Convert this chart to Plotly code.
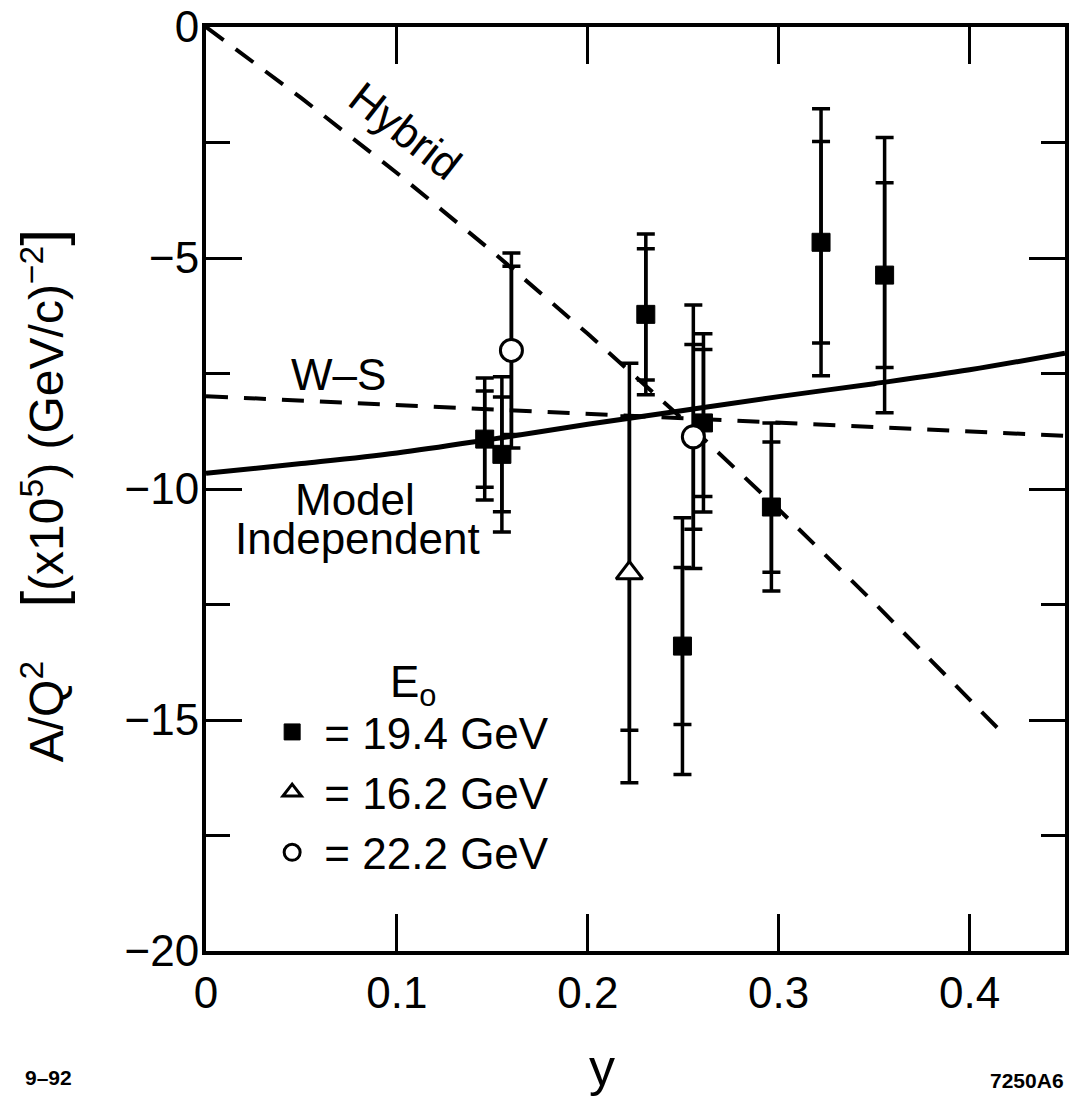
import plotly.graph_objects as go

# ---- data ----
sq_x = [0.146, 0.155, 0.2304, 0.2496, 0.2606, 0.2962, 0.3222, 0.3555]
sq_y = [-8.92, -9.25, -6.22, -13.40, -8.57, -10.39, -4.66, -5.37]
sq_stat = [1.04, 1.24, 1.42, 1.70, 1.59, 1.41, 2.18, 2.00]
sq_tot = [1.32, 1.68, 1.74, 2.78, 1.93, 1.82, 2.89, 2.98]

tri_x = [0.2218]
tri_y = [-11.82]
tri_stat = [3.40]
tri_tot = [4.54]

cir_x = [0.160, 0.2553]
cir_y = [-7.00, -8.87]
cir_stat = [1.82, 2.00]
cir_tot = [2.11, 2.85]

hyb_x = [0, 0.05, 0.10, 0.15, 0.20, 0.25, 0.30, 0.35, 0.4146]
hyb_y = [0, -1.54, -3.16, -4.86, -6.64, -8.50, -10.44, -12.46, -15.17]

ws_x = [0, 0.10, 0.20, 0.30, 0.45]
ws_y = [-7.99, -8.18, -8.37, -8.56, -8.85]

mi_x = [0, 0.05, 0.10, 0.15, 0.20, 0.25, 0.30, 0.35, 0.40, 0.45]
mi_y = [-9.66, -9.45, -9.22, -8.92, -8.60, -8.30, -8.00, -7.72, -7.42, -7.06]

x_ticks = [0, 0.1, 0.2, 0.3, 0.4]
x_ticktext = ["0", "0.1", "0.2", "0.3", "0.4"]
y_ticks = [0, -5, -10, -15, -20]
y_ticktext = ["0", "\u22125", "\u221210", "\u221215", "\u221220"]
y_minor = [-2.5, -7.5, -12.5, -17.5]

FONT = "Liberation Sans, Arial, Helvetica, sans-serif"
FS = 44

fig = go.Figure()

# theory curves
fig.add_trace(go.Scatter(x=hyb_x, y=hyb_y, mode="lines", showlegend=False,
                         line=dict(color="black", width=4, dash="22px,15px")))
fig.add_trace(go.Scatter(x=ws_x, y=ws_y, mode="lines", showlegend=False,
                         line=dict(color="black", width=4, dash="22px,16px")))
fig.add_trace(go.Scatter(x=mi_x, y=mi_y, mode="lines", showlegend=False,
                         line=dict(color="black", width=5, shape="spline")))

def err_traces(xs, ys, stat, tot):
    for e in (tot, stat):
        fig.add_trace(go.Scatter(
            x=xs, y=ys, mode="markers", showlegend=False, hoverinfo="skip",
            marker=dict(size=1, color="rgba(0,0,0,0)"),
            error_y=dict(type="data", array=e, visible=True, color="black",
                         thickness=3.5, width=9)))

err_traces(sq_x, sq_y, sq_stat, sq_tot)
err_traces(tri_x, tri_y, tri_stat, tri_tot)
err_traces(cir_x, cir_y, cir_stat, cir_tot)

# markers on top (also used for legend)
fig.add_trace(go.Scatter(x=sq_x, y=sq_y, mode="markers", name="\u00a0= 19.4 GeV",
                         marker=dict(symbol="square", size=18, color="black",
                                     line=dict(color="black", width=1))))
fig.add_trace(go.Scatter(x=tri_x, y=tri_y, mode="markers", name="\u00a0= 16.2 GeV",
                         marker=dict(symbol="triangle-up", size=23, color="white",
                                     line=dict(color="black", width=3))))
fig.add_trace(go.Scatter(x=cir_x, y=cir_y, mode="markers", name="\u00a0= 22.2 GeV",
                         marker=dict(symbol="circle", size=22, color="white",
                                     line=dict(color="black", width=3))))

ann_font = dict(family=FONT, size=FS, color="black")
annotations = [
    dict(x=0.1044, y=-2.24, xref="x", yref="y", text="Hybrid", textangle=38,
         showarrow=False, font=ann_font),
    dict(x=0.0695, y=-7.53, xref="x", yref="y", text="W\u2013S",
         showarrow=False, font=ann_font),
    dict(x=0.0778, y=-10.22, xref="x", yref="y", text="Model",
         showarrow=False, font=ann_font),
    dict(x=0.0793, y=-11.08, xref="x", yref="y", text="Independent",
         showarrow=False, font=ann_font),
    dict(x=-0.190, y=0.493, xref="paper", yref="paper", textangle=-90,
         xanchor="center", yanchor="middle",
         text="A/Q<sup>2</sup>\u00a0\u00a0\u00a0\u00a0<span style='font-size:60px'>[</span>(x10<sup>5</sup>) (GeV/c)<sup>\u22122</sup><span style='font-size:60px'>]</span>",
         showarrow=False, font=dict(family=FONT, size=48, color="black")),
    dict(x=0.2075, y=-0.159, xref="x", yref="paper", text="y",
         xanchor="center", yanchor="bottom",
         showarrow=False, font=dict(family=FONT, size=52, color="black")),
    dict(x=-0.183, y=-0.151, xref="paper", yref="paper", text="<b>9\u201392</b>",
         xanchor="center", yanchor="bottom",
         showarrow=False, font=dict(family=FONT, size=21, color="black")),
    dict(x=0.956, y=-0.155, xref="paper", yref="paper", text="<b>7250A6</b>",
         xanchor="center", yanchor="bottom",
         showarrow=False, font=dict(family=FONT, size=21, color="black")),
]

fig.update_layout(
    width=1071, height=1096,
    margin=dict(l=206, r=2, t=22, b=145),
    paper_bgcolor="white", plot_bgcolor="white",
    font=dict(family=FONT, size=FS, color="black"),
    annotations=annotations,
    showlegend=True,
    legend=dict(x=0.077, y=0.337, xanchor="left", yanchor="top",
                bgcolor="rgba(0,0,0,0)", borderwidth=0,
                font=dict(family=FONT, size=FS, color="black"),
                title=dict(text="E<sub>o</sub>", side="top center",
                           font=dict(family=FONT, size=FS, color="black")),
                tracegroupgap=0),
    xaxis=dict(range=[0, 0.45], tickvals=x_ticks, ticktext=x_ticktext,
               ticks="inside", ticklen=37, tickwidth=3, tickcolor="black",
               showline=True, linewidth=4, linecolor="black", mirror="allticks",
               showgrid=False, zeroline=False, ticklabeloverflow="allow",
               tickfont=dict(family=FONT, size=FS, color="black")),
    yaxis=dict(range=[-20, 0], tickvals=y_ticks, ticktext=y_ticktext,
               ticks="inside", ticklen=36, tickwidth=3, tickcolor="black",
               showline=True, linewidth=4, linecolor="black", mirror="allticks",
               showgrid=False, zeroline=False, ticklabeloverflow="allow",
               ticklabelstandoff=-6,
               minor=dict(tickvals=y_minor, ticks="inside", ticklen=24,
                          tickwidth=3, tickcolor="black", showgrid=False),
               tickfont=dict(family=FONT, size=FS, color="black")),
)

fig.write_html("out.html", config={"displayModeBar": False},
               post_script="document.body.style.margin='0';document.body.style.overflow='hidden';")
